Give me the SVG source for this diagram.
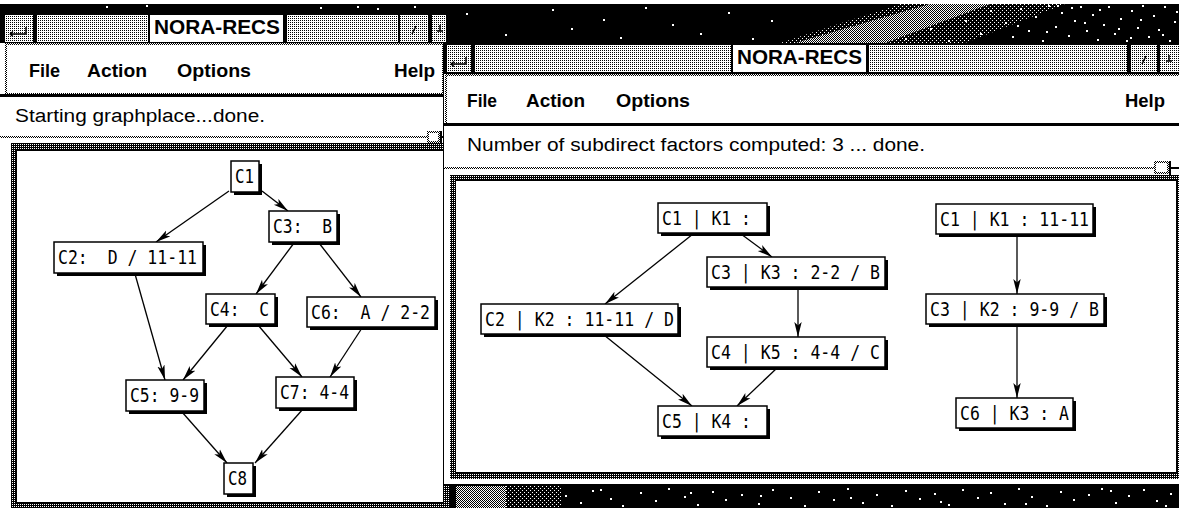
<svg xmlns="http://www.w3.org/2000/svg" width="1179" height="508" viewBox="0 0 1179 508">
<defs>
<pattern id="p25" width="2" height="2" patternUnits="userSpaceOnUse"><rect width="2" height="2" fill="#fff"/><rect width="1" height="1" fill="#000"/></pattern>
<pattern id="p50" width="2" height="2" patternUnits="userSpaceOnUse"><rect width="2" height="2" fill="#fff"/><rect width="1" height="1" fill="#000"/><rect x="1" y="1" width="1" height="1" fill="#000"/></pattern>
<pattern id="p75" width="2" height="2" patternUnits="userSpaceOnUse"><rect width="2" height="2" fill="#000"/><rect width="1" height="1" fill="#fff"/></pattern>
<pattern id="psp" width="4" height="4" patternUnits="userSpaceOnUse"><rect width="4" height="4" fill="#000"/><rect width="1" height="1" fill="#fff"/><rect x="2" y="2" width="1" height="1" fill="#fff"/></pattern>
<marker id="ah" markerUnits="userSpaceOnUse" markerWidth="15" markerHeight="9" viewBox="0 0 15 9" refX="15" refY="4.5" orient="auto"><path d="M0,0.8 L15,4.5 L0,8.2 L3.5,4.5 z" fill="#000"/></marker>
<style>
.nb{fill:#fff;stroke:#000;stroke-width:1.5}
.ns{fill:#000}
.nt{font-family:"DejaVu Sans Mono","Liberation Mono",monospace;font-size:19px;fill:#000}
.mn{font-family:"Liberation Sans",Arial,sans-serif;font-weight:bold;font-size:19px;fill:#000}
.tt{font-family:"Liberation Sans",Arial,sans-serif;font-weight:bold;font-size:21px;fill:#000}
.st{font-family:"Liberation Sans",Arial,sans-serif;font-size:18px;fill:#000}
.ed{stroke:#000;stroke-width:1.3;fill:none;marker-end:url(#ah)}
.gl{stroke:#000;stroke-width:1.5;fill:none}
</style>
</defs>

<!-- desktop background -->
<g id="desktop">
<rect x="0" y="0" width="1179" height="508" fill="#000"/>
<rect x="0" y="0" width="1179" height="4" fill="#fff"/>
<polygon points="780,43 965,43 1065,4 900,4" fill="url(#psp)"/>
<polygon points="795,43 885,43 990,4 930,4" fill="url(#p50)"/>
<rect x="456" y="486" width="105" height="22" fill="url(#psp)"/>
<rect x="456" y="486" width="50" height="22" fill="url(#p50)"/>
<path fill="#fff" d="M106,6h2v2h-2zM146,5h2v2h-2zM320,7h2v2h-2zM357,6h2v2h-2zM377,8h2v2h-2zM414,6h2v2h-2zM466,13h2v2h-2zM505,34h2v2h-2zM552,9h2v2h-2zM571,28h2v2h-2zM603,19h2v2h-2zM620,37h2v2h-2zM645,7h2v2h-2zM672,24h2v2h-2zM700,33h2v2h-2zM728,12h2v2h-2zM752,38h2v2h-2zM771,20h2v2h-2zM905,38h2v2h-2zM930,28h2v2h-2zM948,40h2v2h-2zM965,20h2v2h-2zM980,33h2v2h-2zM990,10h2v2h-2zM1005,22h2v2h-2zM1012,36h2v2h-2zM1020,8h2v2h-2zM1028,30h2v2h-2zM1035,16h2v2h-2zM1042,40h2v2h-2zM1048,5h2v2h-2zM1055,26h2v2h-2zM1061,12h2v2h-2zM1068,35h2v2h-2zM1074,20h2v2h-2zM1080,6h2v2h-2zM1086,30h2v2h-2zM1092,14h2v2h-2zM1097,39h2v2h-2zM1103,24h2v2h-2zM1108,6h2v2h-2zM1114,33h2v2h-2zM1120,18h2v2h-2zM1126,40h2v2h-2zM1131,10h2v2h-2zM1137,27h2v2h-2zM1142,5h2v2h-2zM1148,36h2v2h-2zM1153,15h2v2h-2zM1158,29h2v2h-2zM1164,6h2v2h-2zM1169,40h2v2h-2zM1174,21h2v2h-2zM1046,31h2v2h-2zM1071,7h2v2h-2zM1099,9h2v2h-2zM1118,28h2v2h-2zM1140,19h2v2h-2zM1162,34h2v2h-2zM1017,25h2v2h-2zM1057,5h2v2h-2zM1084,22h2v2h-2zM1130,37h2v2h-2zM1176,11h2v2h-2zM565,495h2v2h-2zM580,502h2v2h-2zM592,490h2v2h-2zM610,498h2v2h-2zM622,505h2v2h-2zM640,492h2v2h-2zM655,500h2v2h-2zM668,488h2v2h-2zM684,496h2v2h-2zM697,504h2v2h-2zM712,491h2v2h-2zM725,499h2v2h-2zM741,494h2v2h-2zM758,503h2v2h-2zM772,489h2v2h-2zM790,497h2v2h-2zM804,505h2v2h-2zM818,491h2v2h-2zM833,499h2v2h-2zM847,488h2v2h-2zM862,502h2v2h-2zM876,494h2v2h-2zM891,505h2v2h-2zM905,490h2v2h-2zM919,498h2v2h-2zM934,493h2v2h-2zM948,504h2v2h-2zM962,489h2v2h-2zM977,497h2v2h-2zM990,492h2v2h-2zM1004,503h2v2h-2zM1018,488h2v2h-2zM1031,496h2v2h-2zM1046,505h2v2h-2zM1060,491h2v2h-2zM1073,499h2v2h-2zM1088,494h2v2h-2zM1101,488h2v2h-2zM1115,502h2v2h-2zM1128,495h2v2h-2zM1143,489h2v2h-2zM1156,500h2v2h-2zM1170,493h2v2h-2zM600,489h2v2h-2zM690,492h2v2h-2zM760,495h2v2h-2zM850,497h2v2h-2zM940,501h2v2h-2zM1025,503h2v2h-2zM1110,490h2v2h-2zM1165,505h2v2h-2z"/>
</g>

<!-- left window -->
<g id="win-left">
<rect x="0" y="14" width="448" height="494" fill="#fff"/>
<rect x="0" y="14" width="448" height="29" fill="#000"/>
<rect x="5" y="15" width="28" height="27" fill="url(#p25)"/>
<path class="gl" d="M10,34H26V27M10,34l3,-2.5M10,34l3,2.5"/>
<rect x="37" y="15" width="111" height="27" fill="url(#p25)"/>
<rect x="150" y="15" width="133" height="27" fill="#fff"/>
<text class="tt" x="154" y="34" textLength="126" lengthAdjust="spacingAndGlyphs">NORA-RECS</text>
<rect x="287" y="15" width="111" height="27" fill="url(#p25)"/>
<rect x="400" y="15" width="28" height="27" fill="url(#p25)"/>
<path class="gl" d="M412,34l4,-8"/>
<rect x="432" y="15" width="14" height="27" fill="url(#p25)"/>
<path class="gl" d="M437,31h6M440,25v6"/>
<rect x="5" y="43" width="439" height="51" fill="url(#p50)"/>
<rect x="7" y="45" width="435" height="48" fill="#fff"/>
<rect x="0" y="94" width="446" height="3" fill="#000"/>
<text class="mn" x="29" y="77" textLength="31" lengthAdjust="spacingAndGlyphs">File</text>
<text class="mn" x="87" y="77" textLength="60" lengthAdjust="spacingAndGlyphs">Action</text>
<text class="mn" x="177" y="77" textLength="74" lengthAdjust="spacingAndGlyphs">Options</text>
<text class="mn" x="394" y="77" textLength="41" lengthAdjust="spacingAndGlyphs">Help</text>
<text class="st" x="15" y="122" textLength="250" lengthAdjust="spacingAndGlyphs">Starting graphplace...done.</text>
<rect x="0" y="136" width="428" height="2" fill="url(#p50)"/>
<rect x="427" y="131" width="13" height="12" fill="url(#p50)"/>
<rect x="429" y="133" width="9" height="8" fill="#fff"/>
<rect x="440" y="131" width="2" height="12" fill="#000"/>
<rect x="440" y="136" width="6" height="2" fill="#000"/>
<rect x="11" y="143" width="438" height="365" fill="url(#p75)"/>
<rect x="16.5" y="150.5" width="427" height="352" fill="#fff" stroke="#000"/>
</g>

<!-- right window frame -->
<g id="win-right">
<rect x="443.5" y="43.5" width="737" height="441" fill="#fff" stroke="#000"/>
<rect x="443" y="43" width="736" height="31" fill="#000"/>
<rect x="447" y="45" width="24" height="27" fill="url(#p25)"/>
<path class="gl" d="M451,64H466V57M451,64l3,-2.5M451,64l3,2.5"/>
<rect x="475" y="45" width="256" height="27" fill="url(#p25)"/>
<rect x="733" y="45" width="133" height="27" fill="#fff"/>
<text class="tt" x="737" y="64" textLength="125" lengthAdjust="spacingAndGlyphs">NORA-RECS</text>
<rect x="869" y="45" width="258" height="27" fill="url(#p25)"/>
<rect x="1131" y="45" width="26" height="27" fill="url(#p25)"/>
<path class="gl" d="M1142,64l4,-8"/>
<rect x="1160" y="45" width="19" height="27" fill="url(#p25)"/>
<path class="gl" d="M1166,61h6M1169,55v6"/>
<rect x="445" y="74" width="734" height="50" fill="url(#p50)"/>
<rect x="447" y="76" width="732" height="47" fill="#fff"/>
<rect x="443" y="123" width="736" height="3" fill="#000"/>
<text class="mn" x="467" y="107" textLength="30" lengthAdjust="spacingAndGlyphs">File</text>
<text class="mn" x="526" y="107" textLength="59" lengthAdjust="spacingAndGlyphs">Action</text>
<text class="mn" x="616" y="107" textLength="74" lengthAdjust="spacingAndGlyphs">Options</text>
<text class="mn" x="1125" y="107" textLength="40" lengthAdjust="spacingAndGlyphs">Help</text>
<text class="st" x="467" y="151" textLength="458" lengthAdjust="spacingAndGlyphs">Number of subdirect factors computed: 3 ... done.</text>
<rect x="444" y="167" width="710" height="2" fill="url(#p50)"/>
<rect x="1154" y="161" width="15" height="13" fill="url(#p50)"/>
<rect x="1156" y="163" width="11" height="9" fill="#fff"/>
<rect x="1169" y="161" width="2" height="14" fill="#000"/>
<rect x="1171" y="167" width="8" height="2" fill="#000"/>
<rect x="450" y="175" width="729" height="304" fill="url(#p75)"/>
<rect x="455.5" y="180.5" width="721" height="292" fill="#fff" stroke="#000"/>
</g>

<!-- connectors -->
<g id="connectors">
<path class="ed" d="M229,191L156,242"/>
<path class="ed" d="M262,191L288,211"/>
<path class="ed" d="M294,243L256,294"/>
<path class="ed" d="M319,243L361,297"/>
<path class="ed" d="M135,274L165,380"/>
<path class="ed" d="M228,325L183,380"/>
<path class="ed" d="M258,325L302,377"/>
<path class="ed" d="M362,328L330,377"/>
<path class="ed" d="M182,412L227,463"/>
<path class="ed" d="M303,409L255,463"/>
<path class="ed" d="M693,234L605,304"/>
<path class="ed" d="M741,234L772,257"/>
<path class="ed" d="M798,288L798,337"/>
<path class="ed" d="M604,335L692,406"/>
<path class="ed" d="M777,368L737,406"/>
<path class="ed" d="M1017,235L1017,294"/>
<path class="ed" d="M1017,325L1017,398"/>
</g>

<!-- left graph nodes -->
<g id="L-C1"><rect class="ns" x="234" y="164" width="28" height="31"/><rect class="nb" x="231" y="161" width="28" height="31"/><text class="nt" x="235" y="183" textLength="19" lengthAdjust="spacingAndGlyphs">C1</text></g>
<g id="L-C3"><rect class="ns" x="272" y="214" width="68" height="31"/><rect class="nb" x="269" y="211" width="68" height="31"/><text class="nt" x="273" y="233" textLength="59" lengthAdjust="spacingAndGlyphs" xml:space="preserve">C3:  B</text></g>
<g id="L-C2"><rect class="ns" x="57" y="245" width="149" height="31"/><rect class="nb" x="54" y="242" width="149" height="31"/><text class="nt" x="58" y="264" textLength="139" lengthAdjust="spacingAndGlyphs" xml:space="preserve">C2:  D / 11-11</text></g>
<g id="L-C4"><rect class="ns" x="209" y="297" width="69" height="30"/><rect class="nb" x="206" y="294" width="69" height="30"/><text class="nt" x="210" y="316" textLength="59" lengthAdjust="spacingAndGlyphs" xml:space="preserve">C4:  C</text></g>
<g id="L-C6"><rect class="ns" x="310" y="300" width="128" height="30"/><rect class="nb" x="307" y="297" width="128" height="30"/><text class="nt" x="311" y="319" textLength="119" lengthAdjust="spacingAndGlyphs" xml:space="preserve">C6:  A / 2-2</text></g>
<g id="L-C5"><rect class="ns" x="129" y="383" width="78" height="31"/><rect class="nb" x="126" y="380" width="78" height="31"/><text class="nt" x="130" y="402" textLength="69" lengthAdjust="spacingAndGlyphs">C5: 9-9</text></g>
<g id="L-C7"><rect class="ns" x="279" y="380" width="78" height="31"/><rect class="nb" x="276" y="377" width="78" height="31"/><text class="nt" x="280" y="399" textLength="69" lengthAdjust="spacingAndGlyphs">C7: 4-4</text></g>
<g id="L-C8"><rect class="ns" x="227" y="466" width="29" height="31"/><rect class="nb" x="224" y="463" width="29" height="31"/><text class="nt" x="228" y="485" textLength="19" lengthAdjust="spacingAndGlyphs">C8</text></g>

<!-- right graph 1 -->
<g id="R1-C1"><rect class="ns" x="661" y="206" width="109" height="30"/><rect class="nb" x="658" y="203" width="109" height="30"/><text class="nt" x="662" y="225" textLength="89" lengthAdjust="spacingAndGlyphs">C1 | K1 :</text></g>
<g id="R1-C3"><rect class="ns" x="710" y="260" width="178" height="30"/><rect class="nb" x="707" y="257" width="178" height="30"/><text class="nt" x="711" y="279" textLength="169" lengthAdjust="spacingAndGlyphs">C3 | K3 : 2-2 / B</text></g>
<g id="R1-C2"><rect class="ns" x="484" y="307" width="197" height="30"/><rect class="nb" x="481" y="304" width="197" height="30"/><text class="nt" x="485" y="326" textLength="189" lengthAdjust="spacingAndGlyphs">C2 | K2 : 11-11 / D</text></g>
<g id="R1-C4"><rect class="ns" x="710" y="340" width="178" height="30"/><rect class="nb" x="707" y="337" width="178" height="30"/><text class="nt" x="711" y="359" textLength="169" lengthAdjust="spacingAndGlyphs">C4 | K5 : 4-4 / C</text></g>
<g id="R1-C5"><rect class="ns" x="661" y="409" width="109" height="30"/><rect class="nb" x="658" y="406" width="109" height="30"/><text class="nt" x="662" y="428" textLength="89" lengthAdjust="spacingAndGlyphs">C5 | K4 :</text></g>

<!-- right graph 2 -->
<g id="R2-C1"><rect class="ns" x="939" y="207" width="157" height="30"/><rect class="nb" x="936" y="204" width="157" height="30"/><text class="nt" x="940" y="226" textLength="149" lengthAdjust="spacingAndGlyphs">C1 | K1 : 11-11</text></g>
<g id="R2-C3"><rect class="ns" x="929" y="297" width="178" height="30"/><rect class="nb" x="926" y="294" width="178" height="30"/><text class="nt" x="930" y="316" textLength="169" lengthAdjust="spacingAndGlyphs">C3 | K2 : 9-9 / B</text></g>
<g id="R2-C6"><rect class="ns" x="959" y="401" width="117" height="30"/><rect class="nb" x="956" y="398" width="117" height="30"/><text class="nt" x="960" y="420" textLength="109" lengthAdjust="spacingAndGlyphs">C6 | K3 : A</text></g>
</svg>
